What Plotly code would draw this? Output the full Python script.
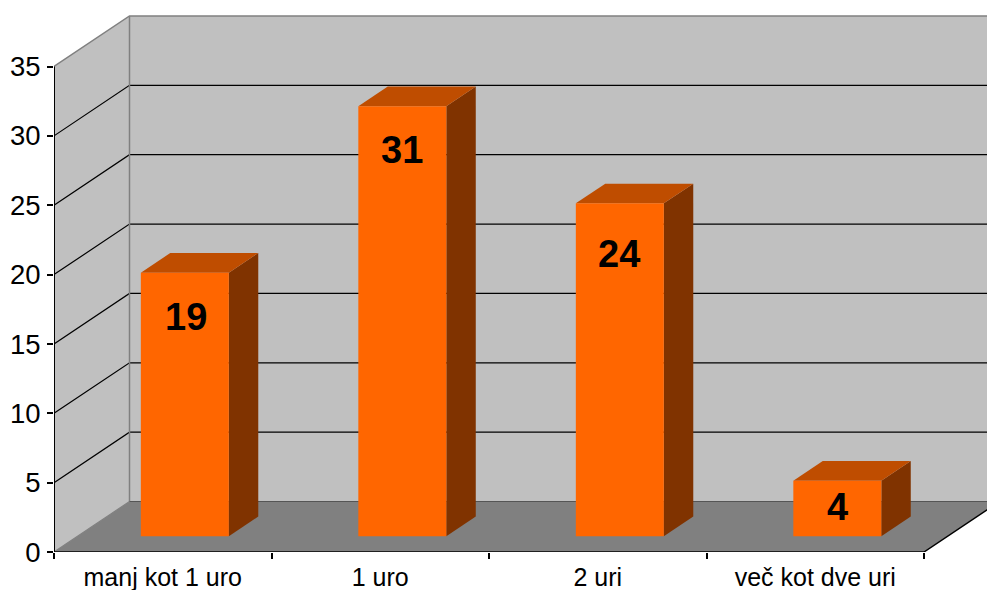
import plotly.graph_objects as go

# Data
categories = ["manj kot 1 uro", "1 uro", "2 uri", "več kot dve uri"]
values = [19, 31, 24, 4]
y_ticks = [0, 5, 10, 15, 20, 25, 30, 35]

# Geometry of the oblique 3D look, in pixels, converted to axis units
W, H = 987, 590
L, B = 54, 38
UX = 217.5           # px per category
UY = 485.5 / 35      # px per value unit
DEPTH_X = 75.5 / UX  # full depth in category units
DEPTH_Y = 50.5 / UY  # full depth in value units
YMAX = 35
BAR_W = 88 / UX
BAR_D0, BAR_D1 = 0.312, 0.702
LABEL_SHIFT = [44, 44, 51, 26]
LABEL_XSHIFT = [1, 0, -1, 0]

WALL, FLOOR = "#C0C0C0", "#808080"
FRONT, TOP, SIDE = "#FF6600", "#BF4D00", "#803300"
EDGE = "#808080"


def p(x, y, d=0.0):
    return x + DEPTH_X * d, y + DEPTH_Y * d


def poly(pts, fill):
    xs, ys = zip(*pts)
    return go.Scatter(x=list(xs) + [xs[0]], y=list(ys) + [ys[0]], mode="lines", fill="toself",
                      fillcolor=fill, line=dict(color=fill, width=0),
                      hoverinfo="skip", showlegend=False)


def seg(pts, color, width=1, clip=True):
    xs, ys = zip(*pts)
    return go.Scatter(x=list(xs), y=list(ys), mode="lines", line=dict(color=color, width=width),
                      hoverinfo="skip", showlegend=False, cliponaxis=clip)


n = len(categories)
fig = go.Figure()
# back wall, side wall, floor
fig.add_trace(poly([p(0, 0, 1), p(n, 0, 1), p(n, YMAX, 1), p(0, YMAX, 1)], WALL))
fig.add_trace(poly([p(0, 0, 0), p(0, 0, 1), p(0, YMAX, 1), p(0, YMAX, 0)], WALL))
fig.add_trace(poly([p(0, 0, 0), p(n, 0, 0), p(n, 0, 1), p(0, 0, 1)], FLOOR))
# gridlines
for t in y_ticks[1:-1]:
    fig.add_trace(seg([p(0, t, 0), p(0, t, 1), p(n, t, 1)], "black", 1.2))
# wall edges
fig.add_trace(seg([p(0, YMAX, 0), p(0, YMAX, 1), p(n, YMAX, 1)], EDGE, 1.5))
fig.add_trace(seg([p(0, 0, 1), p(0, YMAX, 1)], EDGE, 1.5))
fig.add_trace(seg([p(0, 0, 0), p(0, 0, 1)], EDGE, 1.2))
fig.add_trace(seg([p(0, 0, 1), p(n, 0, 1)], "#555555", 1))
# bars
for i, v in enumerate(values):
    c = i + 0.5 + DEPTH_X * 0.327 - 0.012
    x0, x1 = c - BAR_W / 2, c + BAR_W / 2
    dd = BAR_D1 - BAR_D0
    yb = DEPTH_Y * BAR_D0

    def q(x, y, d):
        return x + DEPTH_X * d, yb + y + DEPTH_Y * d

    fig.add_trace(poly([q(x1, 0, 0), q(x1, 0, dd), q(x1, v, dd), q(x1, v, 0)], SIDE))
    fig.add_trace(poly([q(x0, v, 0), q(x1, v, 0), q(x1, v, dd), q(x0, v, dd)], TOP))
    fig.add_trace(poly([q(x0, 0, 0), q(x1, 0, 0), q(x1, v, 0), q(x0, v, 0)], FRONT))
    fig.add_annotation(x=c, y=yb + v, xshift=LABEL_XSHIFT[i], yshift=-LABEL_SHIFT[i],
                       text=f"<b>{v}</b>", showarrow=False,
                       font=dict(family="Liberation Sans", size=38, color="black"))
# floor front edge and right edge
fig.add_trace(seg([p(0, 0, 0), p(n, 0, 0), p(n, 0, 1)], "black", 1.5, clip=False))

fig.update_layout(
    width=W, height=H, autosize=False,
    margin=dict(l=L, r=0, t=0, b=B, pad=0),
    paper_bgcolor="white", plot_bgcolor="white", showlegend=False,
    font=dict(family="Liberation Sans", color="black"),
    xaxis=dict(range=[0, (W - L) / UX], tickmode="array",
               tickvals=[i + 0.5 for i in range(n)], ticktext=categories,
               ticks="", showgrid=False, zeroline=False, showline=False,
               tickfont=dict(size=25), ticklabelstandoff=8, automargin=False,
               minor=dict(tickmode="array", tickvals=list(range(n + 1)), ticks="outside",
                          ticklen=6, tickwidth=1.5, tickcolor="black", showgrid=False)),
    yaxis=dict(range=[0, (H - B) / UY], tickmode="array", tickvals=y_ticks,
               ticks="outside", ticklen=6, tickwidth=1.5, tickcolor="black",
               showgrid=False, zeroline=False, showline=False,
               tickfont=dict(size=27.5), ticklabelstandoff=1, automargin=False),
)
fig.add_trace(seg([(0, 0), (0, YMAX)], "black", 2, clip=False))
fig.write_html("out.html", config={"displayModeBar": False},
               post_script="document.body.style.margin='0';")
